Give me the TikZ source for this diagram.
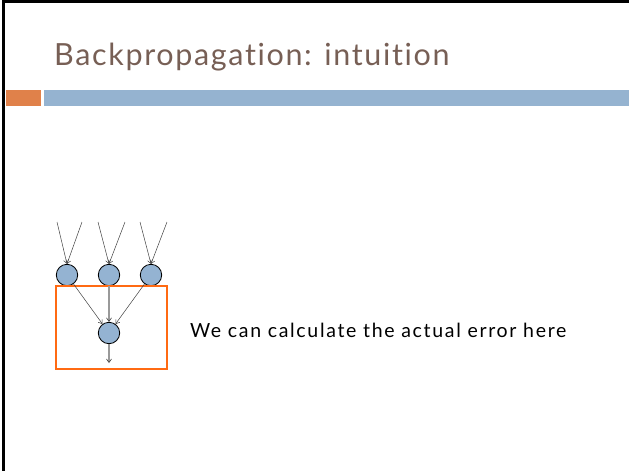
\documentclass[tikz,border=0pt]{standalone}
\usepackage{fontspec}
\setmainfont{Lato}[Ligatures=NoCommon]
\usetikzlibrary{arrows.meta,calc,positioning}
\definecolor{titlebrown}{HTML}{775F55}
\definecolor{barorange}{HTML}{E0814A}
\definecolor{barblue}{HTML}{95B3D0}
\definecolor{nodeblue}{HTML}{94B3D2}
\definecolor{boxorange}{HTML}{FF6A13}
\tikzset{
  neuron/.style={circle,draw=black,fill=nodeblue,minimum size=21.4pt,inner sep=0pt,line width=0.8pt},
  wire/.style={draw=black!75,line width=0.5pt,-{Straight Barb[length=3.5pt,width=5pt]}},
  mainwire/.style={draw=black!40,line width=1.3pt,-{Straight Barb[length=3.5pt,width=5pt,line width=0.6pt,black!75]}}
}

\begin{document}
\begin{tikzpicture}[x=1pt,y=-1pt]
\useasboundingbox (0,0) rectangle (629,471);
% slide frame and header bars
\draw[line width=3pt] (3.5,471) -- (3.5,1) -- (629,1);
\fill[barorange] (6,90) rectangle (41,106);
\fill[barblue] (44,90) rectangle (629,106);
\node[anchor=base west,inner sep=0pt,text=titlebrown,font=\fontsize{30.5}{36}\selectfont\addfontfeature{LetterSpace=5.4}] (title) at (54,65) {Backpropagation: intuition};
% hidden layer
\node[neuron] (h1) at (67,275) {};
\node[neuron] (h2) at (109,275) {};
\node[neuron] (h3) at (151,275) {};
\node[neuron] (out) at (109,333) {};
% inputs
\coordinate (a1) at (57,222);  \coordinate (b1) at (82,222);
\coordinate (a2) at (98,222);  \coordinate (b2) at (125,222);
\coordinate (a3) at (140,222); \coordinate (b3) at (167,222);
\foreach \i in {1,2,3} {
  \draw[wire] (a\i) -- (h\i.north);
  \draw[wire] (b\i) -- (h\i.north);
}
% error box
\draw[boxorange,line width=1.6pt] (56,286) rectangle (167,369);
\draw[wire] (h1) -- (out);
\draw[wire] (h3) -- (out);
\draw[mainwire] (h2) -- (out);
\coordinate (end) at (109,363);
\draw[mainwire] (out) -- (end);
\node[anchor=base west,inner sep=0pt,font=\fontsize{19.5}{24}\selectfont\addfontfeature{LetterSpace=8.6}] (note) at (190,337) {We can calculate the actual error here};
\end{tikzpicture}
\end{document}
